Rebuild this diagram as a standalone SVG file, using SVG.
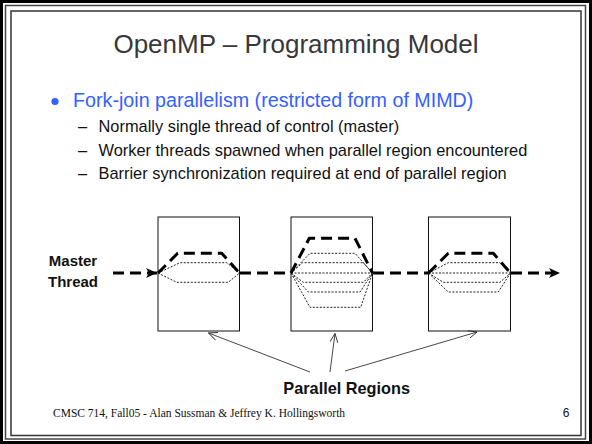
<svg xmlns="http://www.w3.org/2000/svg" width="592" height="444" viewBox="0 0 592 444">
  <style>
    .title { font-family: "Liberation Sans", Arial, sans-serif; font-size: 26px; fill: #383838; }
    .lvl1 { font-family: "Liberation Sans", Arial, sans-serif; font-size: 19.7px; fill: #3361ff; }
    .lvl2 { font-family: "Liberation Sans", Arial, sans-serif; font-size: 16.4px; fill: #111; }
    .lbl { font-family: "Liberation Sans", Arial, sans-serif; font-size: 15px; font-weight: bold; fill: #111; }
    .foot { font-family: "Liberation Serif", "Times New Roman", serif; font-size: 11.5px; fill: #111; }
    .num { font-family: "Liberation Sans", Arial, sans-serif; font-size: 12px; fill: #111; }
    .box { fill: #fff; stroke: #111; stroke-width: 1; }
    .master { fill: none; stroke: #000; stroke-width: 3; stroke-dasharray: 11 6; }
    .worker-main { fill: none; stroke: #000; stroke-width: 3; stroke-dasharray: 11 6; stroke-linejoin: round; }
    .worker { fill: none; stroke: #222; stroke-width: 1; stroke-dasharray: 2 1.5; }
    .pointer { fill: none; stroke: #333; stroke-width: 0.9; }
  </style>
  <defs>
    <marker id="headBold" markerWidth="12" markerHeight="10" refX="11" refY="5" orient="auto" markerUnits="userSpaceOnUse">
      <path d="M0,0 L11,5 L0,10 L3,5 Z" fill="#000"/>
    </marker>
    <marker id="headThin" markerWidth="10" markerHeight="8" refX="9" refY="4" orient="auto" markerUnits="userSpaceOnUse">
      <path d="M0,0 L9,4 L0,8" fill="none" stroke="#333" stroke-width="0.9"/>
    </marker>
  </defs>

  <!-- slide frame -->
  <rect x="0" y="0" width="592" height="444" fill="#fff"/>
  <rect x="1.5" y="1.5" width="589" height="441" fill="none" stroke="#000" stroke-width="3"/>
  <path d="M590,0 V444 M0,442.5 H592" stroke="#000" stroke-width="2"/>
  <rect x="5.5" y="5.5" width="580" height="433.5" fill="none" stroke="#444" stroke-width="1.5"/>
  <rect x="11" y="11" width="570" height="424.5" fill="none" stroke="#333" stroke-width="1.5"/>

  <!-- heading and bullets -->
  <text class="title" x="296" y="53" text-anchor="middle">OpenMP – Programming Model</text>
  <circle cx="55" cy="101.5" r="3.6" fill="#3361ff"/>
  <text class="lvl1" x="73" y="107">Fork-join parallelism (restricted form of MIMD)</text>
  <g class="lvl2">
    <text x="78" y="132">–</text>
    <text x="98.5" y="132">Normally single thread of control (master)</text>
    <text x="78" y="155.5">–</text>
    <text x="98.5" y="155.5">Worker threads spawned when parallel region encountered</text>
    <text x="78" y="179">–</text>
    <text x="98.5" y="179">Barrier synchronization required at end of parallel region</text>
  </g>

  <!-- master thread label -->
  <g id="master-label">
    <text class="lbl" x="73" y="266" text-anchor="middle">Master</text>
    <text class="lbl" x="73" y="287" text-anchor="middle">Thread</text>
  </g>

  <!-- parallel region 1: two workers -->
  <g id="region1">
    <rect class="box" x="158" y="217" width="81.5" height="114"/>
    <path class="worker" d="M158,273 L180,262.7 L226.7,262.7 L239.5,273"/>
    <path class="worker" d="M158,273 L176.7,282.3 L228.3,282.3 L239.5,273"/>
    <path class="worker-main" d="M158,273 L177.7,253.3 L221.7,253.3 L239.5,273"/>
  </g>

  <!-- parallel region 2: six workers -->
  <g id="region2">
    <rect class="box" x="291" y="217" width="81.5" height="114"/>
    <path class="worker" d="M291,273 L310,253.3 L355,253.3 L372.5,273"/>
    <path class="worker" d="M291,273 L302.7,262.7 L363.3,262.7 L372.5,273"/>
    <path class="worker" d="M291,273 L372.5,273"/>
    <path class="worker" d="M291,273 L303.3,282.3 L363.3,282.3 L372.5,273"/>
    <path class="worker" d="M291,273 L308.3,292 L360,292 L372.5,273"/>
    <path class="worker" d="M291,273 L310,307.3 L360.7,307.3 L372.5,273"/>
    <path class="worker-main" d="M291,273 L309.3,238.3 L355,238.3 L372.5,273"/>
  </g>

  <!-- parallel region 3: four workers -->
  <g id="region3">
    <rect class="box" x="428.5" y="217" width="82" height="114"/>
    <path class="worker" d="M428.5,273 L448.3,262.7 L500,262.7 L510.5,273"/>
    <path class="worker" d="M428.5,273 L510.5,273"/>
    <path class="worker" d="M428.5,273 L443.3,282.3 L500,282.3 L510.5,273"/>
    <path class="worker" d="M428.5,273 L448.3,292 L498.3,292 L510.5,273"/>
    <path class="worker-main" d="M428.5,273 L448.3,253.3 L493.3,253.3 L510.5,273"/>
  </g>

  <!-- master thread and region pointers -->
  <g id="connectors">
    <path class="master" d="M113,273 H157" marker-end="url(#headBold)"/>
    <path class="master" d="M240,273 H291"/>
    <path class="master" d="M373,273 H428"/>
    <path class="master" d="M511,273 H560" marker-end="url(#headBold)"/>
    <path class="pointer" d="M310,372 L208.5,333" marker-end="url(#headThin)"/>
    <path class="pointer" d="M330,372 L335,333.5" marker-end="url(#headThin)"/>
    <path class="pointer" d="M345,371 L477,332" marker-end="url(#headThin)"/>
  </g>

  <g id="regions-label">
    <text class="lbl" x="346.7" y="394" text-anchor="middle" style="font-size:16.3px">Parallel Regions</text>
  </g>

  <!-- footer -->
  <text class="foot" x="53" y="416.5">CMSC 714, Fall05 - Alan Sussman &amp; Jeffrey K. Hollingsworth</text>
  <text class="num" x="566" y="416.5" text-anchor="middle">6</text>
</svg>
